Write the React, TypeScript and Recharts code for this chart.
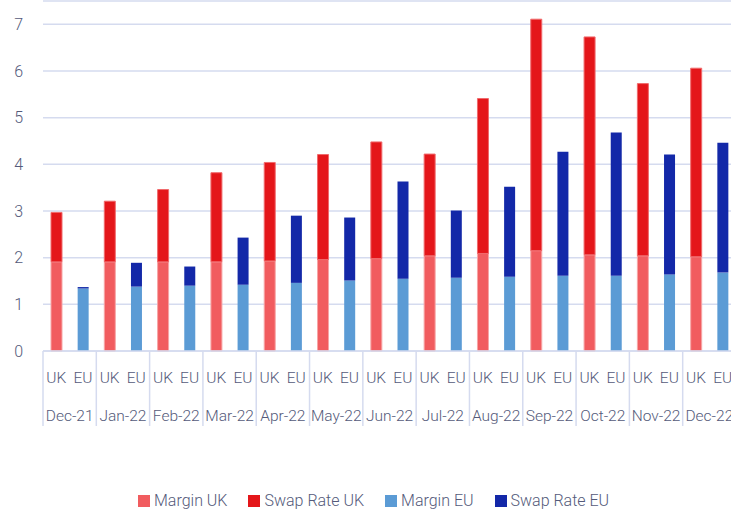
import React from "react";
import { BarChart, Bar, XAxis, YAxis, CartesianGrid } from "recharts";

const months = ["Dec-21", "Jan-22", "Feb-22", "Mar-22", "Apr-22", "May-22", "Jun-22", "Jul-22", "Aug-22", "Sep-22", "Oct-22", "Nov-22", "Dec-22"];
const countries = ["UK", "EU"];
const marginUK = [1.91, 1.91, 1.91, 1.91, 1.93, 1.96, 1.98, 2.04, 2.09, 2.15, 2.06, 2.04, 2.02];
const swapRateUK = [1.06, 1.30, 1.55, 1.91, 2.11, 2.25, 2.50, 2.18, 3.32, 4.96, 4.67, 3.69, 4.04];
const marginEU = [1.34, 1.38, 1.40, 1.42, 1.46, 1.51, 1.55, 1.57, 1.59, 1.61, 1.61, 1.64, 1.68];
const swapRateEU = [0.03, 0.51, 0.41, 1.01, 1.44, 1.35, 2.08, 1.44, 1.93, 2.66, 3.07, 2.57, 2.78];
const yTicks = [0, 1, 2, 3, 4, 5, 6, 7];

const rows: any[] = [];
months.forEach((m, i) => {
  rows.push({ key: m + "-UK", month: m, country: countries[0], marginUK: marginUK[i], swapRateUK: swapRateUK[i] });
  rows.push({ key: m + "-EU", month: m, country: countries[1], marginEU: marginEU[i], swapRateEU: swapRateEU[i] });
});

const FONT = "Roboto, 'Liberation Sans', Arial, sans-serif";
const WEIGHT = 300;
const TEXT = "#545a7a";
const LINE = "#d5dbef";

const COLORS = {
  marginUK: "#f15c5f",
  swapRateUK: "#e4161a",
  marginEU: "#5b9bd5",
  swapRateEU: "#1328a8",
};

const legendItems = [
  { label: "Margin UK", color: COLORS.marginUK },
  { label: "Swap Rate UK", color: COLORS.swapRateUK },
  { label: "Margin EU", color: COLORS.marginEU },
  { label: "Swap Rate EU", color: COLORS.swapRateEU },
];

const XTick = (props: any) => {
  const { x, y, payload } = props;
  const idx = payload.index;
  const half = payload.offset || 13.33;
  const row = rows[idx];
  const isFirst = idx % 2 === 0;
  return (
    <g>
      <text x={x} y={y + 32} textAnchor="middle" fill={TEXT} fontSize={15.5} fontWeight={WEIGHT} fontFamily={FONT}>
        {payload.value}
      </text>
      {isFirst && (
        <>
          <text x={x + half} y={y + 70} textAnchor="middle" fill={TEXT} fontSize={15.5} fontWeight={WEIGHT} fontFamily={FONT}>
            {row.month}
          </text>
          <line x1={x - half} x2={x - half} y1={y} y2={y + 75} stroke={LINE} strokeWidth={1.5} />
        </>
      )}
      {idx === rows.length - 1 && (
        <line x1={x + half} x2={x + half} y1={y} y2={y + 75} stroke={LINE} strokeWidth={1.5} />
      )}
    </g>
  );
};

export default function App() {
  return (
    <div style={{ position: "absolute", left: 0, top: 0, width: 731, height: 509, overflow: "hidden", background: "#fff" }}>
      <BarChart
        width={750}
        height={430}
        data={rows}
        margin={{ top: 1, right: 14, bottom: 3, left: 0 }}
        barSize={11}
      >
        <CartesianGrid vertical={false} stroke={LINE} strokeWidth={1.5} />
        <YAxis
          width={43}
          domain={[0, 7.5]}
          ticks={yTicks}
          axisLine={false}
          tickLine={false}
          tickSize={0}
          tickMargin={20}
          tick={{ fill: TEXT, fontSize: 16, fontWeight: WEIGHT, fontFamily: FONT }}
        />
        <XAxis
          dataKey="country"
          height={76}
          interval={0}
          tickLine={false}
          tickSize={0}
          tickMargin={0}
          axisLine={{ stroke: LINE, strokeWidth: 1.5 }}
          tick={<XTick />}
        />
        <Bar dataKey="marginUK" stackId="s" fill={COLORS.marginUK} stroke="#f7a5a6" strokeWidth={1} isAnimationActive={false} />
        <Bar dataKey="swapRateUK" stackId="s" fill={COLORS.swapRateUK} stroke="#f06a6c" strokeWidth={1} isAnimationActive={false} />
        <Bar dataKey="marginEU" stackId="s" fill={COLORS.marginEU} isAnimationActive={false} />
        <Bar dataKey="swapRateEU" stackId="s" fill={COLORS.swapRateEU} isAnimationActive={false} />
      </BarChart>
      <div
        style={{
          position: "absolute",
          left: 138,
          top: 495,
          display: "flex",
          alignItems: "center",
          fontFamily: FONT,
          fontWeight: WEIGHT,
          fontSize: 16,
          color: TEXT,
          lineHeight: "12px",
          whiteSpace: "nowrap",
        }}
      >
        {legendItems.map((it) => (
          <div key={it.label} style={{ display: "flex", alignItems: "center", marginRight: 21 }}>
            <span style={{ display: "inline-block", width: 12, height: 12, background: it.color, marginRight: 4 }} />
            <span>{it.label}</span>
          </div>
        ))}
      </div>
    </div>
  );
}
